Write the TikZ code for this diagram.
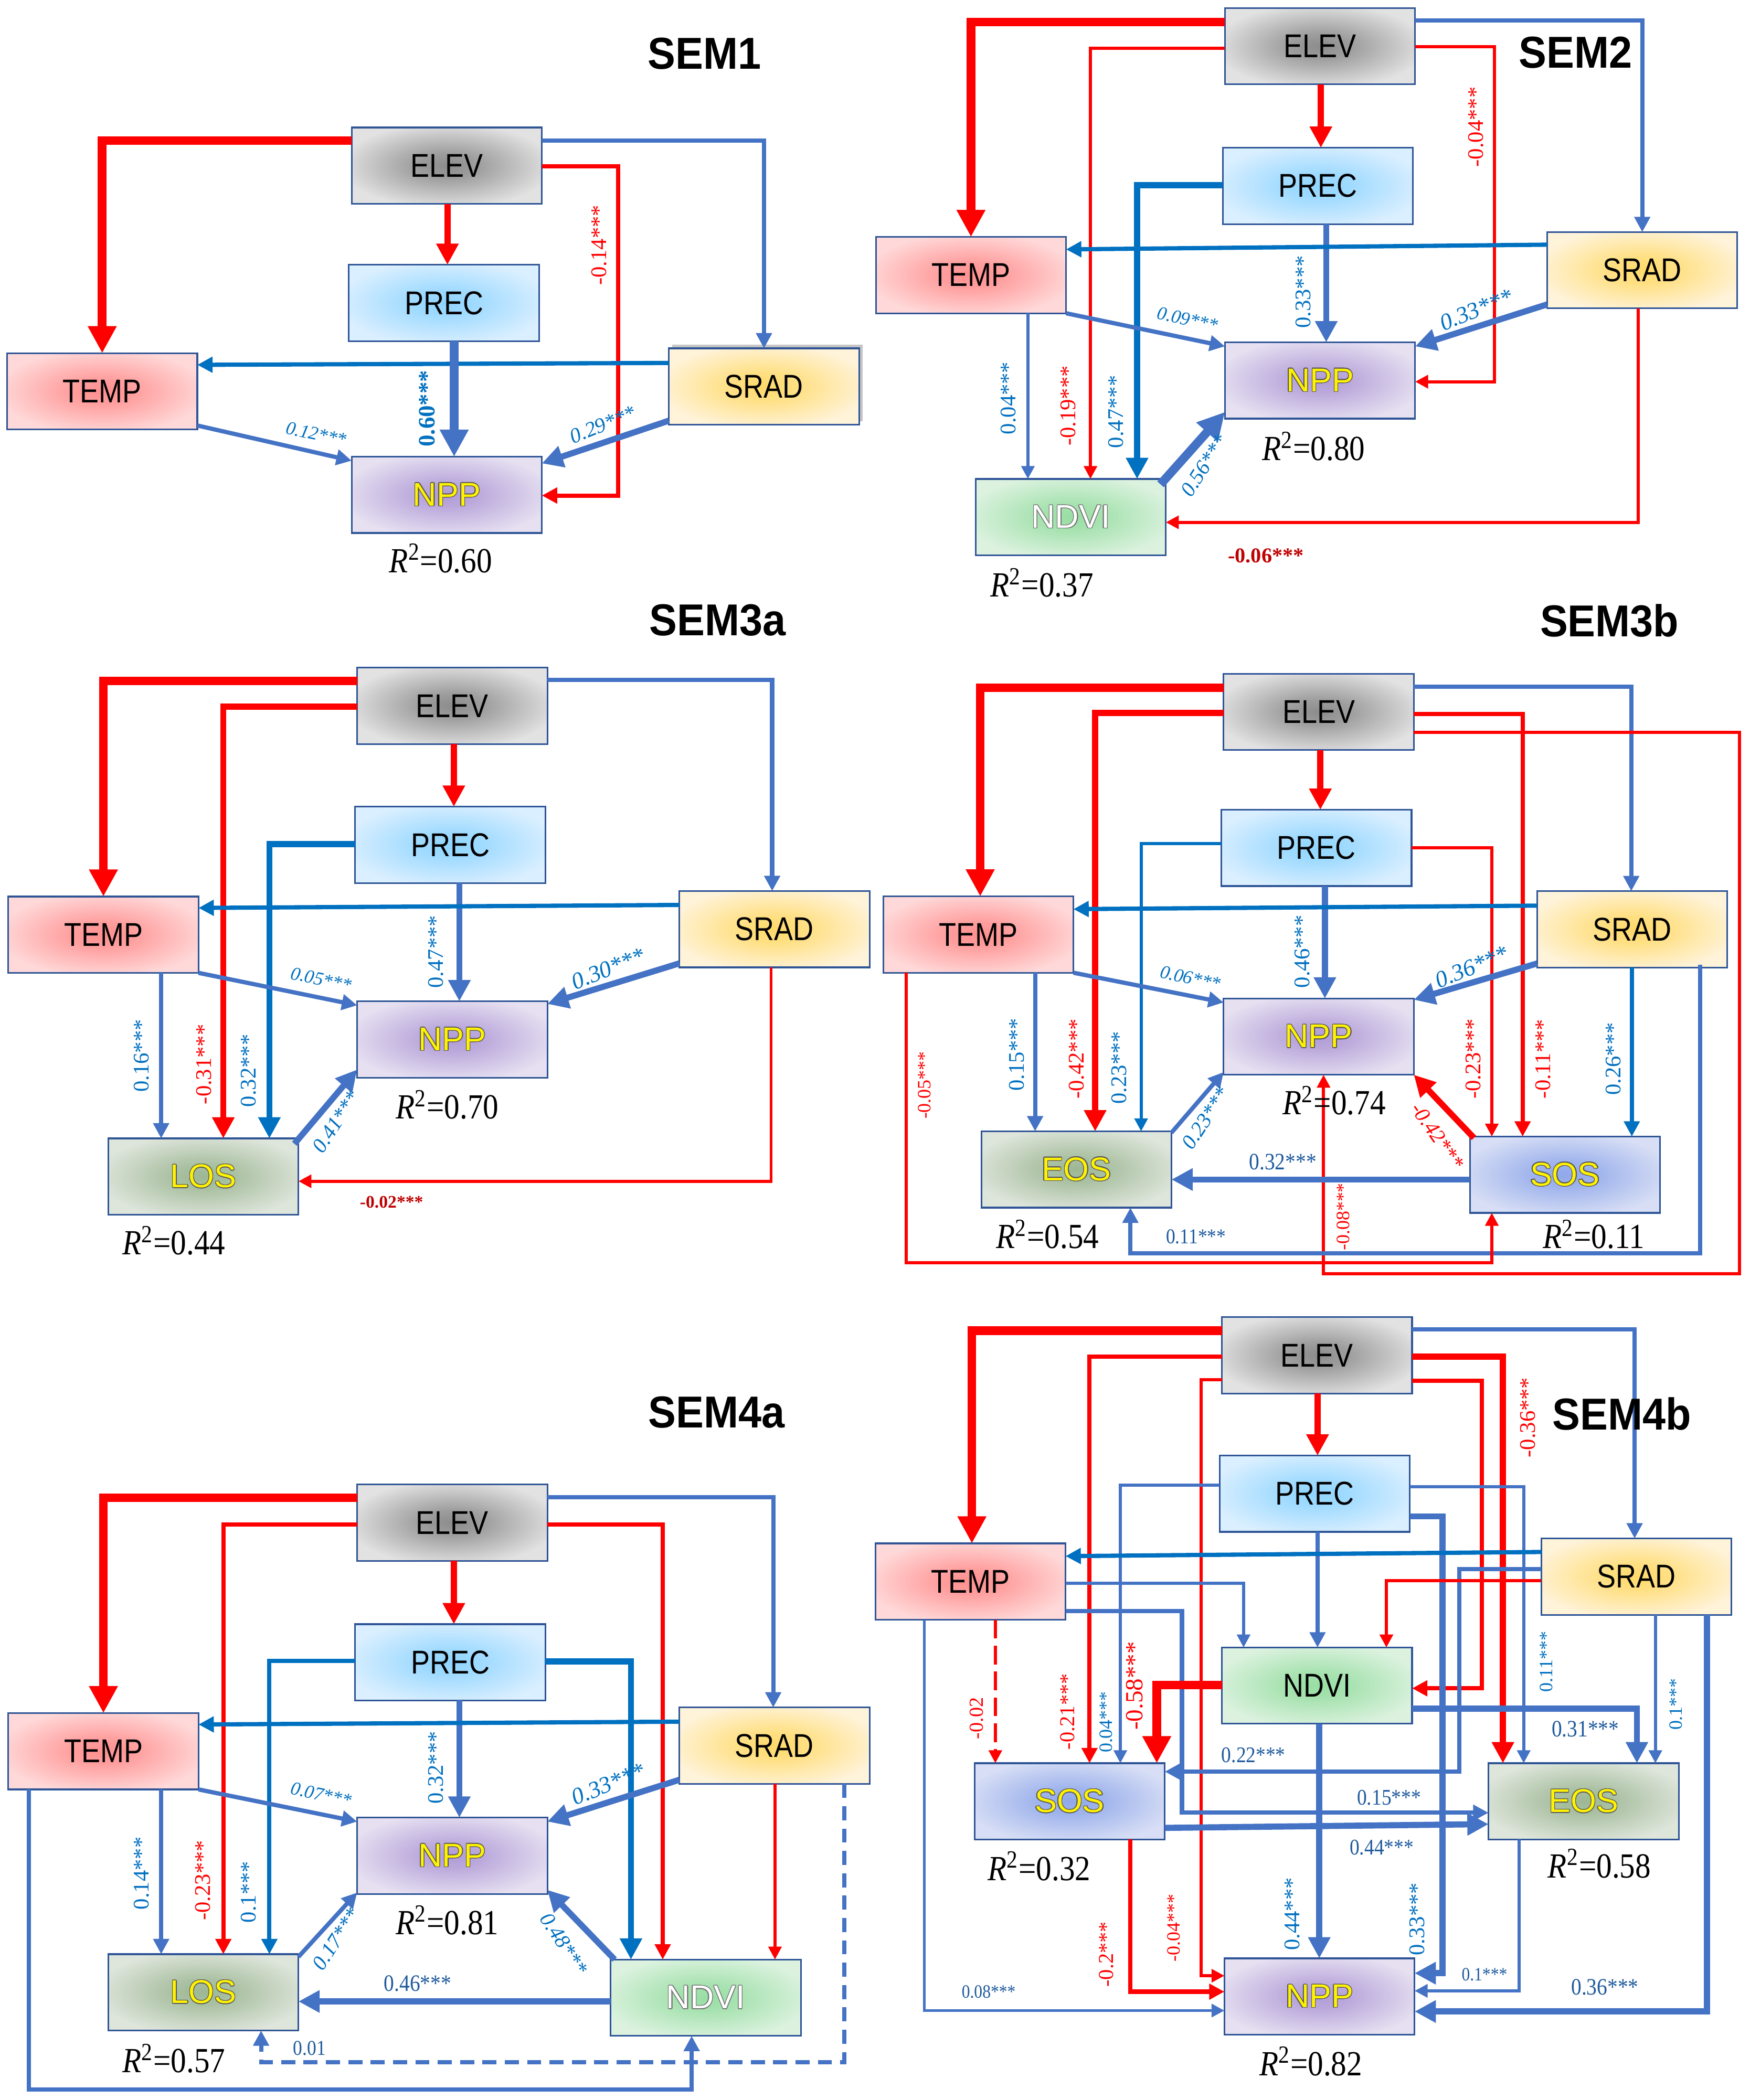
\documentclass[tikz,border=0pt]{standalone}
\usepackage{fontspec}
\setmainfont{Liberation Serif}
\newfontfamily\boxfont[FakeStretch=0.86]{Liberation Sans}
\newfontfamily\outfont{Liberation Sans}
\newfontfamily\ttlfont[FakeStretch=0.93]{Liberation Sans}
\newfontfamily\rfont[FakeStretch=0.88]{Liberation Serif}
\usepackage{contour}
\contourlength{0.3pt}
\usetikzlibrary{arrows.meta,calc,shadows}

\definecolor{lred}{HTML}{FF0000}
\definecolor{lblue}{HTML}{4472C4}
\definecolor{ldblue}{HTML}{0070C0}
\definecolor{tblue}{HTML}{0070C0}
\definecolor{tnavy}{HTML}{1F5A9E}
\definecolor{tdred}{HTML}{C00000}
\definecolor{bline}{HTML}{2F5597}
\definecolor{elevIn}{HTML}{8C8C8C}\definecolor{elevOut}{HTML}{E2E2E2}
\definecolor{precIn}{HTML}{90D5FF}\definecolor{precOut}{HTML}{DAEFFF}
\definecolor{tempIn}{HTML}{FF8F8F}\definecolor{tempOut}{HTML}{FFD9D9}
\definecolor{sradIn}{HTML}{FFDA6A}\definecolor{sradOut}{HTML}{FFF3D9}
\definecolor{nppIn}{HTML}{B09BD6}\definecolor{nppOut}{HTML}{E6E0F1}
\definecolor{losIn}{HTML}{9DB794}\definecolor{losOut}{HTML}{DEE5DB}
\definecolor{ndviIn}{HTML}{98DEA3}\definecolor{ndviOut}{HTML}{DCF2DF}
\definecolor{sosIn}{HTML}{90A8EA}\definecolor{sosOut}{HTML}{D7DEF5}

\pgfdeclareradialshading{shELEV}{\pgfpointorigin}{color(0bp)=(elevIn); color(8bp)=(elevIn!80!elevOut); color(28bp)=(elevOut); color(50bp)=(elevOut)}
\pgfdeclareradialshading{shPREC}{\pgfpointorigin}{color(0bp)=(precIn); color(8bp)=(precIn!80!precOut); color(28bp)=(precOut); color(50bp)=(precOut)}
\pgfdeclareradialshading{shTEMP}{\pgfpointorigin}{color(0bp)=(tempIn); color(8bp)=(tempIn!80!tempOut); color(28bp)=(tempOut); color(50bp)=(tempOut)}
\pgfdeclareradialshading{shSRAD}{\pgfpointorigin}{color(0bp)=(sradIn); color(8bp)=(sradIn!80!sradOut); color(28bp)=(sradOut); color(50bp)=(sradOut)}
\pgfdeclareradialshading{shNPP}{\pgfpointorigin}{color(0bp)=(nppIn); color(8bp)=(nppIn!80!nppOut); color(28bp)=(nppOut); color(50bp)=(nppOut)}
\pgfdeclareradialshading{shLOS}{\pgfpointorigin}{color(0bp)=(losIn); color(8bp)=(losIn!80!losOut); color(28bp)=(losOut); color(50bp)=(losOut)}
\pgfdeclareradialshading{shNDVI}{\pgfpointorigin}{color(0bp)=(ndviIn); color(8bp)=(ndviIn!80!ndviOut); color(28bp)=(ndviOut); color(50bp)=(ndviOut)}
\pgfdeclareradialshading{shSOS}{\pgfpointorigin}{color(0bp)=(sosIn); color(8bp)=(sosIn!80!sosOut); color(28bp)=(sosOut); color(50bp)=(sosOut)}

\newcommand\ytxt[1]{{\outfont\textcolor{yellow}{\contour{black!65}{#1}}}}
\newcommand\wtxt[1]{{\outfont\textcolor{white}{\contour{black!55}{#1}}}}
\newcommand\rsqv[1]{\textit{R}\textsuperscript{2}=#1}

\tikzset{
 box/.style={shade, draw=bline, line width=0.7pt, minimum width=2.84cm, minimum height=1.14cm, inner sep=0pt, outer sep=0pt, font=\boxfont\fontsize{14}{16}\selectfont},
 bELEV/.style={box, shading=shELEV},
 bPREC/.style={box, shading=shPREC},
 bTEMP/.style={box, shading=shTEMP},
 bSRAD/.style={box, shading=shSRAD},
 bNPP/.style={box, shading=shNPP},
 bLOS/.style={box, shading=shLOS},
 bNDVI/.style={box, shading=shNDVI},
 bSOS/.style={box, shading=shSOS},
 rl/.style={draw=lred},
 bl/.style={draw=lblue},
 dbl/.style={draw=ldblue},
 wA/.style={line width=1.3pt, -{Triangle[length=5.5pt,width=5.5pt]}},
 wB/.style={line width=1.8pt, -{Triangle[length=6.5pt,width=6.5pt]}},
 wC/.style={line width=2.6pt, -{Triangle[length=9pt,width=9pt]}},
 wD/.style={line width=3.7pt, -{Triangle[length=11.5pt,width=11.5pt]}},
 vb/.style={inner sep=0pt, rotate=90, text=tblue, font=\fontsize{9.5}{10}\selectfont},
 vr/.style={vb, text=lred},
 db/.style={inner sep=0pt, text=tblue, font=\itshape\fontsize{9}{10}\selectfont},
 hb/.style={inner sep=0pt, text=tnavy, font=\rfont\fontsize{10}{11}\selectfont},
 hr/.style={inner sep=0pt, text=tdred, font=\bfseries\fontsize{8.5}{10}\selectfont},
 rsq/.style={inner sep=0pt, font=\rfont\fontsize{15}{16}\selectfont},
 ttl/.style={inner sep=0pt, font=\ttlfont\bfseries\fontsize{19}{20}\selectfont},
}

\begin{document}
\begin{tikzpicture}[x=0.02cm,y=-0.02cm]
\fill[white] (0,0) rectangle (1306,1568);
\useasboundingbox (0,0) rectangle (1306,1568);

%================ SEM1
\node[bELEV] (E1) at (333.5,123.7) {ELEV};
\node[bPREC] (P1) at (331.4,226.2) {PREC};
\node[bTEMP] (T1) at (76.3,292.2) {TEMP};
\node[bSRAD, drop shadow={shadow xshift=1.5pt,shadow yshift=1.5pt,opacity=0.45}] (S1) at (570.3,288.6) {SRAD};
\node[bNPP] (N1) at (333.5,369.5) {\ytxt{NPP}};
\draw[rl,wD] (E1.west |- 0,105) -| (T1.north);
\draw[rl,wC] (E1.south -| 334,0) -- (P1.north -| 334,0);
\draw[bl,wB] (E1.east |- 0,105) -| (S1.north);
\draw[rl,wB] (E1.east |- 0,124) -| (461.6,370) -- (N1.east |- 0,370);
\draw[dbl,wB] (S1.west |- 0,271) -- (T1.east |- 0,272.4);
\draw[bl,wD] (P1.south -| 339,0) -- (N1.north -| 339,0);
\draw[bl,wB] ($(T1.south east)+(0,-3)$) -- ($(N1.north west)+(0,3)$);
\draw[bl,wC] ($(S1.south west)+(0,-3)$) -- ($(N1.north east)+(0,5)$);
\node[vr] (l1a) at (447,183) {-0.14***};
\node[vb, font=\bfseries\fontsize{10}{11}\selectfont] (l1b) at (319,305) {0.60***};
\node[db, rotate=-12, font=\itshape\fontsize{8}{9}\selectfont] (l1c) at (236,324) {0.12***};
\node[db, rotate=22] (l1d) at (450,317) {0.29***};
\node[rsq] (r1) at (329,417) {\rsqv{0.60}};
\node[ttl] (t1) at (526,40) {SEM1};

%================ SEM2
\node[bELEV] (E2) at (985.4,34.5) {ELEV};
\node[bPREC] (P2) at (983.8,138.8) {PREC};
\node[bTEMP] (T2) at (724.8,205.4) {TEMP};
\node[bSRAD] (S2) at (1225.9,201.8) {SRAD};
\node[bNPP] (N2) at (985.4,284.1) {\ytxt{NPP}};
\node[bNDVI] (D2) at (799.3,386.1) {\wtxt{NDVI}};
\draw[rl,wD] (E2.west |- 0,16.4) -| (T2.north);
\draw[rl,wA] (E2.west |- 0,35.9) -| (D2.north -| 814,0);
\draw[rl,wC] (E2.south -| 986,0) -- (P2.north -| 986,0);
\draw[bl,wB] (E2.east |- 0,15.2) -| (S2.north);
\draw[rl,wA] (E2.east |- 0,34.8) -| (1115.7,285) -- (N2.east |- 0,285);
\draw[dbl,wC] (P2.west |- 0,138.2) -| (D2.north -| 848.8,0);
\draw[bl,wC] (P2.south -| 990,0) -- (N2.north -| 990,0);
\draw[dbl,wB] (S2.west |- 0,182.7) -- (T2.east |- 0,186.2);
\draw[bl,wB] (T2.south east) -- ($(N2.north west)+(0,3)$);
\draw[bl,wC] ($(S2.south west)+(0,-3)$) -- ($(N2.north east)+(0,3)$);
\draw[bl,wA] (T2.south -| 767.3,0) -- (D2.north -| 767.3,0);
\draw[bl,wD] ($(D2.north east)+(-4,4)$) -- ($(N2.south west)+(0,-5)$);
\draw[rl,wA] (S2.south -| 1223,0) |- (D2.east |- 0,390);
\node[vr] (l2a) at (1101.9,94.8) {-0.04***};
\node[vb] (l2b) at (973,218) {0.33***};
\node[db, rotate=-12, font=\itshape\fontsize{8}{9}\selectfont] (l2c) at (886.5,238.4) {0.09***};
\node[db, rotate=22, font=\itshape\fontsize{10}{11}\selectfont] (l2d) at (1101.9,231.3) {0.33***};
\node[vb] (l2e) at (752.7,297.3) {0.04***};
\node[vr] (l2f) at (797.4,303) {-0.19***};
\node[vb] (l2g) at (833,307.4) {0.47***};
\node[db, rotate=57] (l2h) at (899,347.6) {0.56***};
\node[hr, font=\bfseries\fontsize{9}{10}\selectfont] (l2i) at (945,415) {-0.06***};
\node[rsq] (r2a) at (980.6,333.2) {\rsqv{0.80}};
\node[rsq] (r2b) at (777.8,435.2) {\rsqv{0.37}};
\node[ttl] (t2) at (1176,39.4) {SEM2};

%================ SEM3a
\node[bELEV] (E3) at (337.6,527) {ELEV};
\node[bPREC] (P3) at (336.1,630.8) {PREC};
\node[bTEMP] (T3) at (77.2,697.9) {TEMP};
\node[bSRAD] (S3) at (578.1,693.8) {SRAD};
\node[bNPP] (N3) at (337.6,776.1) {\ytxt{NPP}};
\node[bLOS] (L3) at (151.8,878.5) {\ytxt{LOS}};
\draw[rl,wD] (E3.west |- 0,508.5) -| (T3.north);
\draw[rl,wC] (E3.west |- 0,527.5) -| (L3.north -| 166.7,0);
\draw[rl,wC] (E3.south -| 338.8,0) -- (P3.north -| 338.8,0);
\draw[bl,wB] (E3.east |- 0,507.5) -| (S3.north -| 576.4,0);
\draw[dbl,wC] (P3.west |- 0,630.3) -| (L3.north -| 201.1,0);
\draw[bl,wC] (P3.south -| 342.9,0) -- (N3.north -| 342.9,0);
\draw[dbl,wB] (S3.west |- 0,675.7) -- (T3.east |- 0,677.9);
\draw[bl,wB] (T3.south east) -- ($(N3.north west)+(0,3)$);
\draw[bl,wC] ($(S3.south west)+(0,-3)$) -- ($(N3.north east)+(0,2)$);
\draw[bl,wB] (T3.south -| 120.3,0) -- (L3.north -| 120.3,0);
\draw[bl,wC] ($(L3.north east)+(-3,4)$) -- ($(N3.south west)+(0,-6)$);
\draw[rl,wA] (S3.south -| 575.6,0) |- (L3.east |- 0,882);
\node[vr] (l3a) at (152.2,794.7) {-0.31***};
\node[vb] (l3b) at (185.4,799.4) {0.32***};
\node[vb] (l3c) at (325.5,710.6) {0.47***};
\node[db, rotate=-12, font=\itshape\fontsize{8}{9}\selectfont] (l3d) at (239.7,731.2) {0.05***};
\node[db, rotate=22, font=\itshape\fontsize{10}{11}\selectfont] (l3e) at (454,723.3) {0.30***};
\node[vb] (l3f) at (105.7,788.3) {0.16***};
\node[db, rotate=57] (l3g) at (250.9,837.5) {0.41***};
\node[hr, font=\bfseries\fontsize{7.5}{9}\selectfont] (l3h) at (292.3,897.8) {-0.02***};
\node[rsq] (r3a) at (333.8,824.8) {\rsqv{0.70}};
\node[rsq] (r3b) at (129.8,926.3) {\rsqv{0.44}};
\node[ttl] (t3) at (535.8,463) {SEM3a};

%================ SEM3b
\node[bELEV] (E4) at (984.4,531.6) {ELEV};
\node[bPREC] (P4) at (982.7,633.1) {PREC};
\node[bTEMP] (T4) at (730.3,697.8) {TEMP};
\node[bSRAD] (S4) at (1218.4,693.9) {SRAD};
\node[bNPP] (N4) at (984.4,774) {\ytxt{NPP}};
\node[bLOS] (EO4) at (803.5,873.2) {\ytxt{EOS}};
\node[bSOS] (SO4) at (1168.2,877.1) {\ytxt{SOS}};
\draw[rl,wD] (E4.west |- 0,513.5) -| (T4.north -| 731.7,0);
\draw[rl,wC] (E4.west |- 0,532.2) -| (EO4.north -| 817.5,0);
\draw[rl,wC] (E4.south -| 985.6,0) -- (P4.north -| 985.6,0);
\draw[bl,wB] (E4.east |- 0,512.6) -| (S4.north -| 1217.7,0);
\draw[rl,wB] (E4.east |- 0,533.2) -| (SO4.north -| 1136.6,0);
\draw[rl,wA] (E4.east |- 0,546.9) -| (1298.4,951) -| (N4.south -| 988,0);
\draw[dbl,wA] (P4.west |- 0,629.7) -| (EO4.north -| 851.8,0);
\draw[bl,wC] (P4.south -| 989,0) -- (N4.north -| 989,0);
\draw[rl,wA] (P4.east |- 0,633) -| (SO4.north -| 1113.6,0);
\draw[dbl,wB] (S4.west |- 0,676.2) -- (T4.east |- 0,678.8);
\draw[bl,wB] (T4.south east) -- ($(N4.north west)+(0,3)$);
\draw[bl,wC] ($(S4.south west)+(0,-3)$) -- ($(N4.north east)+(0,1)$);
\draw[dbl,wB] (S4.south -| 1218.1,0) -- (SO4.north -| 1218.1,0);
\draw[bl,wB] ($(S4.south -| 1269.1,0)+(0,-2)$) |- (843.8,935.6) -- (EO4.south -| 843.8,0);
\draw[rl,wA] (T4.south -| 676.5,0) |- (1113.6,942.8) -- (SO4.south -| 1113.6,0);
\draw[bl,wB] (T4.south -| 772.7,0) -- (EO4.north -| 772.7,0);
\draw[bl,wB] ($(EO4.north east)+(0,1)$) -- ($(N4.south west)+(0,-2)$);
\draw[rl,wC] ($(SO4.north west)+(3,1)$) -- (N4.south east);
\draw[bl,wC] (SO4.west |- 0,880.7) -- (EO4.east |- 0,880.7);
\node[vr] (l4a) at (803.7,790.7) {-0.42***};
\node[vr] (l4b) at (1152,790.7) {-0.11***};
\node[vr, font=\fontsize{8}{9}\selectfont] (l4c) at (1002.8,908.5) {-0.08***};
\node[vb] (l4d) at (835.5,797.2) {0.23***};
\node[vb] (l4e) at (972.2,710.5) {0.46***};
\node[vr] (l4f) at (1099.8,790.7) {-0.23***};
\node[db, rotate=-12, font=\itshape\fontsize{8}{9}\selectfont] (l4g) at (888.6,730.2) {0.06***};
\node[db, rotate=22, font=\itshape\fontsize{10}{11}\selectfont] (l4h) at (1098.5,722) {0.36***};
\node[vb] (l4i) at (1204.3,790.7) {0.26***};
\node[hb, font=\rfont\fontsize{9}{10}\selectfont] (l4j) at (892.8,923.2) {0.11***};
\node[vr, font=\fontsize{8}{9}\selectfont] (l4k) at (690,810.3) {-0.05***};
\node[vb] (l4l) at (758.9,787.4) {0.15***};
\node[db, rotate=57] (l4m) at (899.9,834.9) {0.23***};
\node[db, text=lred, rotate=-55] (l4n) at (1073,848) {-0.42***};
\node[hb] (l4o) at (957.6,867.6) {0.32***};
\node[rsq] (r4a) at (996,821.8) {\rsqv{0.74}};
\node[rsq] (r4b) at (781.9,921.6) {\rsqv{0.54}};
\node[rsq] (r4c) at (1189.7,921.6) {\rsqv{0.11}};
\node[ttl] (t4) at (1201.4,463.5) {SEM3b};

%================ SEM4a
\node[bELEV] (E5) at (337.6,1136.9) {ELEV};
\node[bPREC] (P5) at (336.1,1241.2) {PREC};
\node[bTEMP] (T5) at (77.2,1307.6) {TEMP};
\node[bSRAD] (S5) at (578.1,1303.4) {SRAD};
\node[bNPP] (N5) at (337.6,1385.6) {\ytxt{NPP}};
\node[bLOS] (L5) at (151.8,1487.6) {\ytxt{LOS}};
\node[bNDVI] (D5) at (526.8,1491.6) {\wtxt{NDVI}};
\draw[rl,wD] (E5.west |- 0,1118.3) -| (T5.north);
\draw[rl,wB] (E5.west |- 0,1138.3) -| (L5.north -| 166.7,0);
\draw[rl,wC] (E5.south -| 338.8,0) -- (P5.north -| 338.8,0);
\draw[bl,wB] (E5.east |- 0,1118) -| (S5.north -| 577.2,0);
\draw[rl,wB] (E5.east |- 0,1138.3) -| (D5.north -| 494.7,0);
\draw[dbl,wB] (P5.west |- 0,1240) -| (L5.north -| 201.1,0);
\draw[dbl,wC] (P5.east |- 0,1240.6) -| (D5.north -| 471,0);
\draw[bl,wC] (P5.south -| 342.9,0) -- (N5.north -| 342.9,0);
\draw[dbl,wB] (S5.west |- 0,1285.5) -- (T5.east |- 0,1287.6);
\draw[bl,wB] (T5.south east) -- ($(N5.north west)+(0,3)$);
\draw[bl,wC] ($(S5.south west)+(0,-3)$) -- ($(N5.north east)+(0,3)$);
\draw[bl,wB] (T5.south -| 120.3,0) -- (L5.north -| 120.3,0);
\draw[bl,wB] ($(L5.north east)+(0,2)$) -- ($(N5.south west)+(0,-1)$);
\draw[bl,wC] ($(D5.north west)+(3,0)$) -- ($(N5.south east)+(0,-3)$);
\draw[bl,wC] (D5.west |- 0,1494.4) -- (L5.east |- 0,1494.4);
\draw[rl,wA] (S5.south -| 578.5,0) -- (D5.north -| 578.5,0);
\draw[bl,wB,dash pattern=on 6pt off 3.5pt] (S5.south -| 630.3,0) |- (194.9,1539.6) -- (L5.south -| 194.9,0);
\draw[bl,wB] (T5.south -| 21.6,0) |- (516.3,1560) -- (D5.south -| 516.3,0);
\node[vr] (l5a) at (151.4,1404) {-0.23***};
\node[vb] (l5b) at (185.4,1412.7) {0.1***};
\node[vb] (l5c) at (325.5,1319.8) {0.32***};
\node[db, rotate=-12, font=\itshape\fontsize{8}{9}\selectfont] (l5d) at (239.7,1339.8) {0.07***};
\node[db, rotate=22, font=\itshape\fontsize{10}{11}\selectfont] (l5e) at (454,1332.1) {0.33***};
\node[vb] (l5f) at (105.7,1398.7) {0.14***};
\node[db, rotate=57] (l5g) at (250.9,1447.8) {0.17***};
\node[db, rotate=-57] (l5h) at (420.9,1451.3) {0.48***};
\node[hb] (l5i) at (311.8,1481) {0.46***};
\node[hb, font=\rfont\fontsize{9}{10}\selectfont] (l5j) at (231,1529.4) {0.01};
\node[rsq] (r5a) at (333.8,1433.7) {\rsqv{0.81}};
\node[rsq] (r5b) at (129.8,1537.1) {\rsqv{0.57}};
\node[ttl] (t5) at (534.9,1054.5) {SEM4a};

%================ SEM4b
\node[bELEV] (E6) at (983.1,1012) {ELEV};
\node[bPREC] (P6) at (981.4,1115.3) {PREC};
\node[bTEMP] (T6) at (724.4,1180.9) {TEMP};
\node[bSRAD] (S6) at (1221.5,1177.2) {SRAD};
\node[bNDVI] (D6) at (983.1,1258.6) {NDVI};
\node[bSOS] (SO6) at (798.5,1345) {\ytxt{SOS}};
\node[bLOS] (EO6) at (1182.1,1345) {\ytxt{EOS}};
\node[bNPP] (N6) at (985,1490.7) {\ytxt{NPP}};
\draw[rl,wD] (E6.west |- 0,993.5) -| (T6.north -| 725.5,0);
\draw[rl,wB] (E6.west |- 0,1013) -| (SO6.north -| 813.3,0);
\draw[rl,wA] (E6.west |- 0,1030.2) -| (896.5,1475.2) -- (N6.west |- 0,1475.2);
\draw[rl,wC] (E6.south -| 983.5,0) -- (P6.north -| 983.5,0);
\draw[bl,wB] (E6.east |- 0,992.5) -| (S6.north -| 1220.2,0);
\draw[rl,wC] (E6.east |- 0,1013) -| (EO6.north -| 1121.9,0);
\draw[rl,wB] (E6.east |- 0,1030.8) -| (1106,1260.6) -- (D6.east |- 0,1260.6);
\draw[bl,wA] (P6.west |- 0,1109) -| (SO6.north -| 836.3,0);
\draw[bl,wA] (P6.east |- 0,1110) -| (EO6.north -| 1137.4,0);
\draw[bl,wC] (P6.east |- 0,1132.2) -| (1076.8,1473.3) -- (N6.east |- 0,1473.3);
\draw[bl,wB] (P6.south -| 983.5,0) -- (D6.north -| 983.5,0);
\draw[bl,wA] (T6.east |- 0,1182.3) -| (D6.north -| 928.3,0);
\draw[bl,wB] (T6.east |- 0,1202.8) -| (882.3,1353.5) -- (EO6.west |- 0,1353.5);
\draw[rl,wA,dash pattern=on 8pt off 3pt] (T6.south -| 743,0) -- (SO6.north -| 743,0);
\draw[bl,wA] (T6.south -| 690,0) |- (N6.west |- 0,1501.2);
\draw[dbl,wB] (S6.west |- 0,1158.8) -- (T6.east |- 0,1161.9);
\draw[bl,wB] (S6.west |- 0,1171.5) -| (1089.3,1322.8) -- (SO6.east |- 0,1322.8);
\draw[rl,wA] (S6.west |- 0,1180.3) -| (D6.north -| 1034.9,0);
\draw[bl,wA] (S6.south -| 1235.7,0) -- (EO6.north -| 1235.7,0);
\draw[bl,wC] (S6.south -| 1274.1,0) |- (N6.east |- 0,1501.9);
\draw[rl,wD] (D6.west |- 0,1258.1) -| (SO6.north -| 863.5,0);
\draw[bl,wC] (D6.east |- 0,1275.9) -| (EO6.north -| 1221.9,0);
\draw[bl,wC] (D6.south -| 984.8,0) -- (N6.north -| 984.8,0);
\draw[bl,wC] (SO6.east |- 0,1364.8) -- (EO6.west |- 0,1362);
\draw[rl,wB] (SO6.south -| 843.8,0) |- (N6.west |- 0,1487.1);
\draw[bl,wA] (EO6.south -| 1134,0) |- (N6.east |- 0,1486.5);
\node[vr] (l6a) at (1140.3,1058.4) {-0.36***};
\node[vr, font=\fontsize{9}{10}\selectfont] (l6b) at (797,1278) {-0.21***};
\node[vb, font=\fontsize{8}{9}\selectfont] (l6c) at (825.8,1285.8) {0.04***};
\node[vr, font=\fontsize{10.5}{11}\selectfont] (l6d) at (847,1258.7) {-0.58***};
\node[vr, font=\fontsize{8.5}{9}\selectfont] (l6e) at (729,1283) {-0.02};
\node[hb, font=\rfont\fontsize{9.5}{10}\selectfont] (l6f) at (935.7,1310.3) {0.22***};
\node[hb, font=\rfont\fontsize{9.5}{10}\selectfont] (l6g) at (1036.9,1342.3) {0.15***};
\node[hb, font=\rfont\fontsize{9.5}{10}\selectfont] (l6h) at (1031.4,1379.4) {0.44***};
\node[hb] (l6i) at (1183.4,1290.9) {0.31***};
\node[vb, font=\fontsize{8}{9}\selectfont] (l6j) at (1154.1,1240.7) {0.11***};
\node[vb, font=\fontsize{8}{9}\selectfont] (l6k) at (1251.1,1272.5) {0.1***};
\node[vb] (l6l) at (964.7,1429.1) {0.44***};
\node[vb] (l6m) at (1058,1432.9) {0.33***};
\node[vr, font=\fontsize{8}{9}\selectfont] (l6n) at (876,1439.5) {-0.04***};
\node[vr, font=\fontsize{9}{10}\selectfont] (l6o) at (825.8,1459.2) {-0.2***};
\node[hb, font=\rfont\fontsize{8}{9}\selectfont] (l6p) at (738,1487.4) {0.08***};
\node[hb, font=\rfont\fontsize{8}{9}\selectfont] (l6q) at (1108.1,1474.3) {0.1***};
\node[hb] (l6r) at (1198,1483.7) {0.36***};
\node[rsq] (r6a) at (775.7,1393.4) {\rsqv{0.32}};
\node[rsq] (r6b) at (1193.9,1391.5) {\rsqv{0.58}};
\node[rsq] (r6c) at (978.5,1539.2) {\rsqv{0.82}};
\node[ttl] (t6) at (1210.6,1055.8) {SEM4b};
\end{tikzpicture}
\end{document}
